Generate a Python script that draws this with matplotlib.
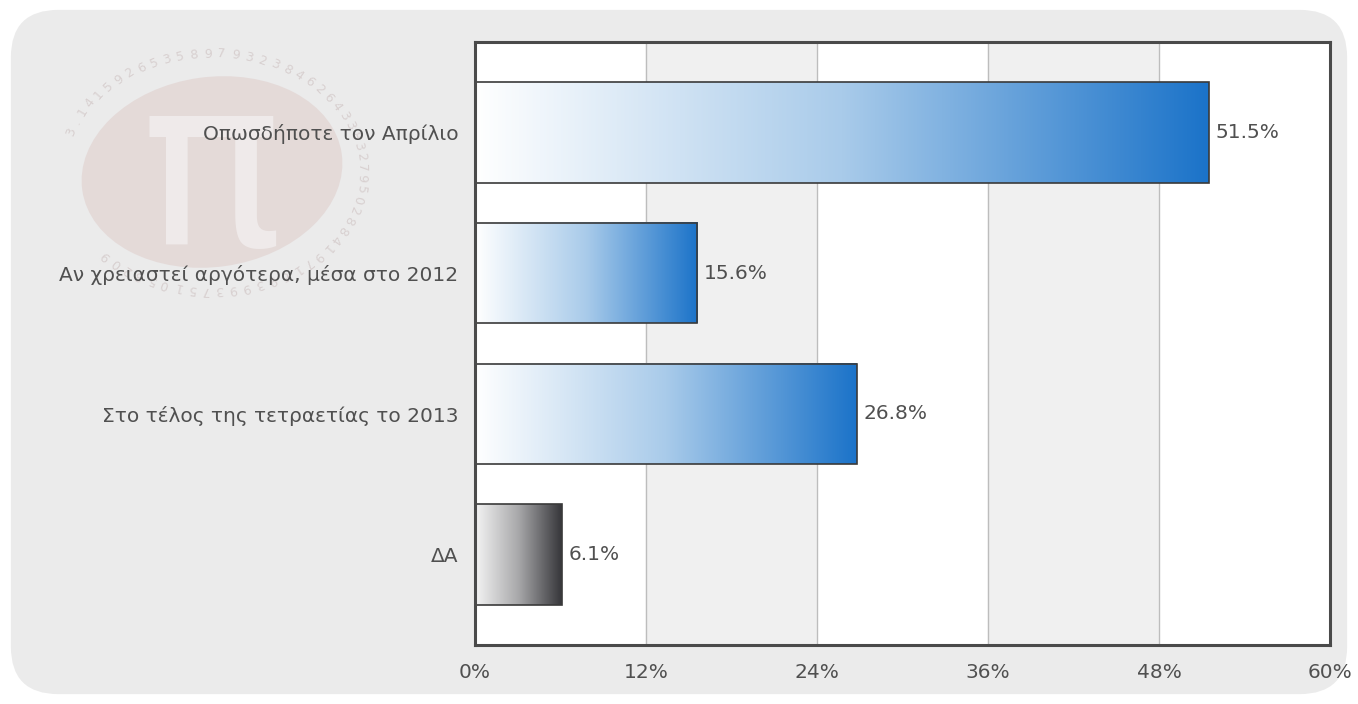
import matplotlib
matplotlib.use("Agg")
import matplotlib.pyplot as plt
import numpy as np
from matplotlib.colors import LinearSegmentedColormap
from matplotlib.patches import FancyBboxPatch, Ellipse

categories = ["Οπωσδήποτε τον Απρίλιο", "Αν χρειαστεί αργότερα, μέσα στο 2012",
              "Στο τέλος της τετραετίας το 2013", "ΔΑ"]
values = [51.5, 15.6, 26.8, 6.1]
xticks = [0, 12, 24, 36, 48, 60]
xtick_labels = ["0%", "12%", "24%", "36%", "48%", "60%"]
ring_digits = "3.1415926535897932384626433832795028841971693993751058209"

plt.rcParams['font.family'] = ['DejaVu Sans']
FS = 14.5
TXT = '#505050'

fig = plt.figure(figsize=(13.58, 7.04), dpi=100, facecolor='white')
bg = FancyBboxPatch((0.008, 0.014), 0.984, 0.972,
                    boxstyle="round,pad=0,rounding_size=0.035",
                    transform=fig.transFigure, facecolor='#ebebeb', edgecolor='none',
                    mutation_aspect=1358/704, zorder=0)
fig.patches.append(bg)

# watermark
wm = fig.add_axes([0, 0, 1, 1], zorder=0.5)
wm.set_xlim(0, 1358); wm.set_ylim(704, 0); wm.axis('off')
cx, cy = 212, 172
wm.add_patch(Ellipse((cx, cy), 262, 190, angle=-8, facecolor='#dcc6c3', edgecolor='none', alpha=0.45))
wm.text(cx, cy + 8, "π", fontsize=170, color='#efeaea', ha='center', va='center', family='DejaVu Sans')
for k, ch in enumerate(ring_digits):
    ang = np.deg2rad(200 + k * (300 / len(ring_digits)))
    x = cx + 150 * np.cos(ang)
    y = cy + 118 * np.sin(ang)
    rot = -np.rad2deg(ang) - 90
    wm.text(x, y, ch, fontsize=9, color='#d8d0d0', ha='center', va='center', rotation=rot)

ax = fig.add_axes([475/1358, 1-645/704, (1330-475)/1358, (645-42)/704], zorder=1)
n = len(categories)

for i in range(5):
    ax.axvspan(xticks[i], xticks[i+1], color='#ffffff' if i % 2 == 0 else '#f0f0f0', zorder=0)
for t in xticks[1:-1]:
    ax.axvline(t, color='#bdbdbd', lw=1, zorder=0.5)

blue = LinearSegmentedColormap.from_list('b', ['#ffffff', '#a9cbea', '#1b73c9'])
gray = LinearSegmentedColormap.from_list('g', ['#f4f4f4', '#a8a8aa', '#36363a'])
grad = np.linspace(0, 1, 256).reshape(1, -1)
h = 0.715
for i, v in enumerate(values):
    cm = gray if categories[i] == "ΔΑ" else blue
    ax.imshow(grad, cmap=cm, extent=[0, v, i + h/2, i - h/2], aspect='auto', zorder=2,
              interpolation='bilinear')
    ax.barh(i, v, height=h, facecolor='none', edgecolor='#3a3a3a', lw=1.2, zorder=3)
    ax.text(v + 0.45, i, f"{v}%", va='center', ha='left', fontsize=FS, color=TXT, zorder=4)

ax.set_xlim(0, 60)
ax.set_ylim(n - 1 + 0.64, -0.64)
ax.set_xticks(xticks)
ax.set_xticklabels(xtick_labels)
ax.set_yticks(range(n))
ax.set_yticklabels(categories)
ax.tick_params(axis='both', length=0, labelsize=FS, labelcolor=TXT)
ax.tick_params(axis='x', pad=13)
ax.tick_params(axis='y', pad=12)
for s in ax.spines.values():
    s.set_color('#4a4a4a')
    s.set_linewidth(2.2)
    s.set_zorder(5)

fig.savefig('out.png', dpi=100, facecolor='white')
